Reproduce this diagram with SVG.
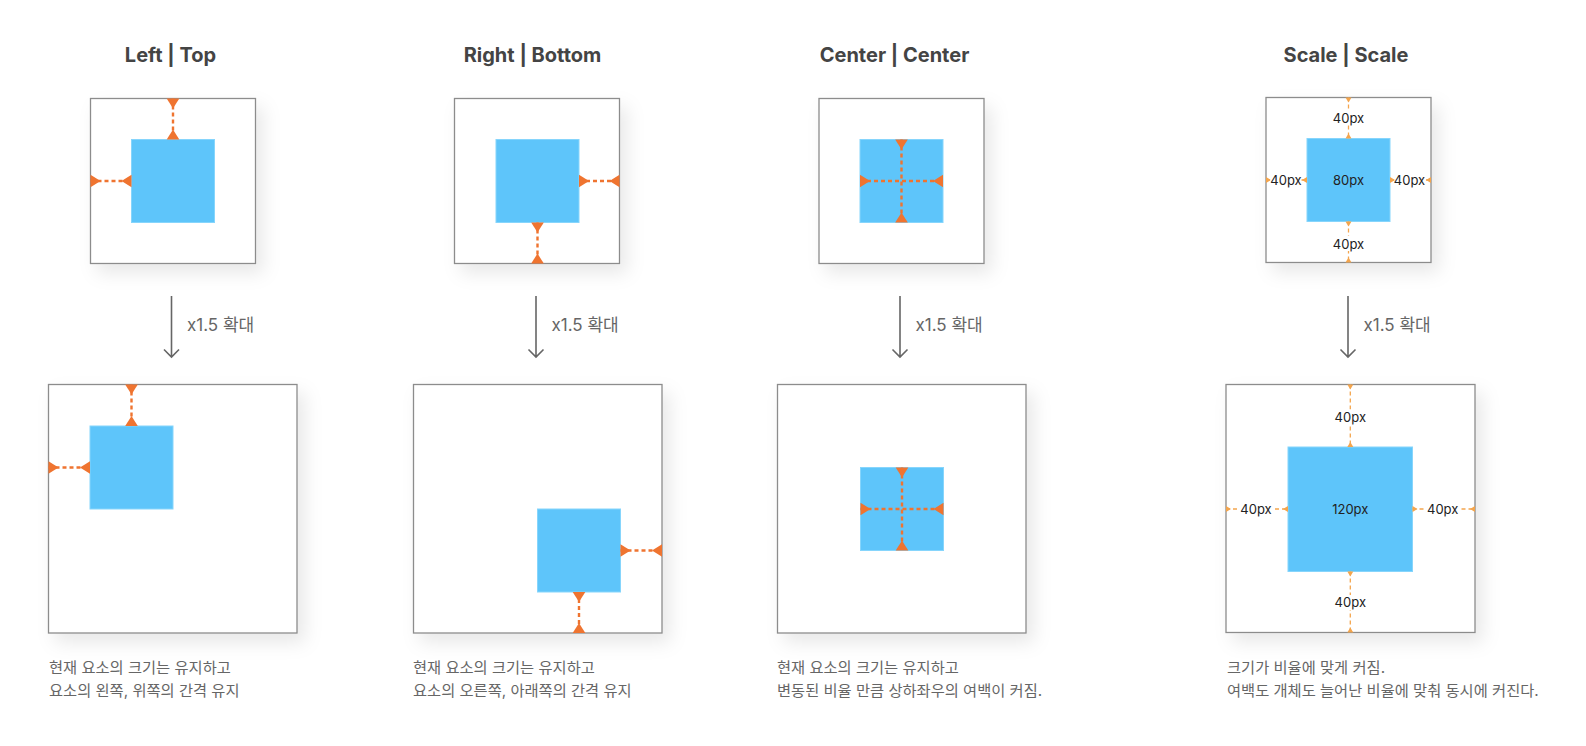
<svg xmlns="http://www.w3.org/2000/svg" width="1586" height="746" viewBox="0 0 1586 746">
<style>
.title{font-family:Inter,"Noto Sans","Liberation Sans",sans-serif;font-weight:700;font-size:20px;fill:#444;text-anchor:middle}
.zoom{font-family:Inter,"Noto Sans CJK KR",sans-serif;font-size:17px;fill:#666}
.cap{font-family:Inter,"Noto Sans CJK KR",sans-serif;font-size:15.3px;fill:#666}
.lbl{font-family:Inter,"Noto Sans",sans-serif;font-size:13px;fill:#222;text-anchor:middle}
.frame{fill:#fff;stroke:#8c8c8c;stroke-width:1.3;filter:url(#sh)}
.blue{fill:#5ec5fa;stroke:#86d5fc;stroke-width:1}
.dim{stroke:#ef7430;stroke-width:2.4;stroke-dasharray:4 3;fill:none;marker-start:url(#ts);marker-end:url(#te)}
.dim2{stroke:#f4a54d;stroke-width:1.3;stroke-dasharray:4 3;fill:none;marker-start:url(#ss);marker-end:url(#se)}
.zarrow{stroke:#666;stroke-width:1.6;fill:none}
.bg{fill:#fff}
</style>
<defs>
<filter id="sh" x="-20%" y="-20%" width="150%" height="150%">
<feDropShadow dx="7" dy="9" stdDeviation="9" flood-color="#000" flood-opacity="0.09"/>
</filter>
<marker id="ts" markerUnits="userSpaceOnUse" refX="0" refY="0" orient="auto" overflow="visible" markerWidth="1" markerHeight="1"><path d="M0,-6.3 L10,0 L0,6.3 Z" fill="#ef7430"/></marker>
<marker id="te" markerUnits="userSpaceOnUse" refX="0" refY="0" orient="auto" overflow="visible" markerWidth="1" markerHeight="1"><path d="M0,-6.3 L-10,0 L0,6.3 Z" fill="#ef7430"/></marker>
<marker id="ss" markerUnits="userSpaceOnUse" refX="0" refY="0" orient="auto" overflow="visible" markerWidth="1" markerHeight="1"><path d="M0,-3 L5,0 L0,3 Z" fill="#f4a54d"/></marker>
<marker id="se" markerUnits="userSpaceOnUse" refX="0" refY="0" orient="auto" overflow="visible" markerWidth="1" markerHeight="1"><path d="M0,-3 L-5,0 L0,3 Z" fill="#f4a54d"/></marker>
</defs>
<rect width="1586" height="746" fill="#fff"/>

<text class="title" x="170.5" y="62">Left | Top</text>
<text class="title" x="532.5" y="62">Right | Bottom</text>
<text class="title" x="894.5" y="62">Center | Center</text>
<text class="title" x="1346" y="62">Scale | Scale</text>

<g id="c1-top">
<rect class="frame" x="90.5" y="98.5" width="165" height="165"/>
<rect class="blue" x="131.5" y="139.5" width="83" height="83"/>
</g>
<g id="c1-bottom">
<rect class="frame" x="48.5" y="384.5" width="248.5" height="248.5"/>
<rect class="blue" x="90" y="426" width="83" height="83"/>
</g>

<g id="c2-top">
<rect class="frame" x="454.5" y="98.5" width="165" height="165"/>
<rect class="blue" x="496" y="139.5" width="83" height="83"/>
</g>
<g id="c2-bottom">
<rect class="frame" x="413.5" y="384.5" width="248.5" height="248.5"/>
<rect class="blue" x="537.5" y="509" width="83" height="83"/>
</g>

<g id="c3-top">
<rect class="frame" x="819" y="98.5" width="165" height="165"/>
<rect class="blue" x="860" y="139.5" width="83" height="83"/>
</g>
<g id="c3-bottom">
<rect class="frame" x="777.5" y="384.5" width="248.5" height="248.5"/>
<rect class="blue" x="860.5" y="467.5" width="83" height="83"/>
</g>

<g id="c4-top">
<rect class="frame" x="1266" y="97.5" width="165" height="165"/>
<rect class="blue" x="1307" y="138.5" width="83" height="83"/>
<text class="lbl" x="1348.5" y="184.7">80px</text>
</g>
<g id="c4-bottom">
<rect class="frame" x="1226" y="384.5" width="249" height="248"/>
<rect class="blue" x="1288" y="447" width="124.5" height="124.5"/>
<text class="lbl" x="1350.3" y="513.7">120px</text>
</g>

<g id="connectors">
<line class="dim" x1="173" y1="98.5" x2="173" y2="139.5"/>
<line class="dim" x1="90.5" y1="181" x2="131.5" y2="181"/>
<line class="dim" x1="131.5" y1="384.5" x2="131.5" y2="426"/>
<line class="dim" x1="48.5" y1="467.5" x2="90" y2="467.5"/>

<line class="dim" x1="579" y1="181" x2="619.5" y2="181"/>
<line class="dim" x1="537.5" y1="222.5" x2="537.5" y2="263.5"/>
<line class="dim" x1="620.5" y1="550.5" x2="662" y2="550.5"/>
<line class="dim" x1="579" y1="592" x2="579" y2="633"/>

<line class="dim" x1="860" y1="181" x2="943" y2="181"/>
<line class="dim" x1="901.5" y1="139.5" x2="901.5" y2="222.5"/>
<line class="dim" x1="860.5" y1="509" x2="943.5" y2="509"/>
<line class="dim" x1="902" y1="467.5" x2="902" y2="550.5"/>

<line class="dim2" x1="1348.5" y1="97.5" x2="1348.5" y2="138.5"/>
<line class="dim2" x1="1348.5" y1="221.5" x2="1348.5" y2="262.5"/>
<line class="dim2" x1="1266" y1="180" x2="1307" y2="180"/>
<line class="dim2" x1="1390" y1="180" x2="1431" y2="180"/>
<line class="dim2" x1="1350.3" y1="384.5" x2="1350.3" y2="447"/>
<line class="dim2" x1="1350.3" y1="571.5" x2="1350.3" y2="632.5"/>
<line class="dim2" x1="1226" y1="509" x2="1288" y2="509"/>
<line class="dim2" x1="1412.5" y1="509" x2="1475" y2="509"/>

<path class="zarrow" d="M171.5,296 V357 M164,349.5 L171.5,357 L179,349.5"/>
<path class="zarrow" d="M536,296 V357 M528.5,349.5 L536,357 L543.5,349.5"/>
<path class="zarrow" d="M900,296 V357 M892.5,349.5 L900,357 L907.5,349.5"/>
<path class="zarrow" d="M1348,296 V357 M1340.5,349.5 L1348,357 L1355.5,349.5"/>
</g>

<g id="labels">
<rect class="bg" x="1331" y="110" width="35" height="15"/>
<text class="lbl" x="1348.5" y="123">40px</text>
<rect class="bg" x="1331" y="236" width="35" height="15"/>
<text class="lbl" x="1348.5" y="248.7">40px</text>
<rect class="bg" x="1270.5" y="172.5" width="31" height="15"/>
<text class="lbl" x="1286" y="184.7">40px</text>
<rect class="bg" x="1395" y="172.5" width="31" height="15"/>
<text class="lbl" x="1409.5" y="184.7">40px</text>
<rect class="bg" x="1332.5" y="409.5" width="35" height="15"/>
<text class="lbl" x="1350.3" y="422">40px</text>
<rect class="bg" x="1332.5" y="595" width="35" height="15"/>
<text class="lbl" x="1350.3" y="607.4">40px</text>
<rect class="bg" x="1238.5" y="501.5" width="35" height="15"/>
<text class="lbl" x="1256" y="513.7">40px</text>
<rect class="bg" x="1425" y="501.5" width="35" height="15"/>
<text class="lbl" x="1442.7" y="513.7">40px</text>
</g>

<text class="zoom" x="187" y="331">x1.5 확대</text>
<text class="zoom" x="551.5" y="331">x1.5 확대</text>
<text class="zoom" x="915.5" y="331">x1.5 확대</text>
<text class="zoom" x="1363.5" y="331">x1.5 확대</text>

<text class="cap" x="49" y="673">현재 요소의 크기는 유지하고</text>
<text class="cap" x="49" y="696">요소의 왼쪽, 위쪽의 간격 유지</text>
<text class="cap" x="413" y="673">현재 요소의 크기는 유지하고</text>
<text class="cap" x="413" y="696">요소의 오른쪽, 아래쪽의 간격 유지</text>
<text class="cap" x="777" y="673">현재 요소의 크기는 유지하고</text>
<text class="cap" x="777" y="696">변동된 비율 만큼 상하좌우의 여백이 커짐.</text>
<text class="cap" x="1227" y="673">크기가 비율에 맞게 커짐.</text>
<text class="cap" x="1227" y="696">여백도 개체도 늘어난 비율에 맞춰 동시에 커진다.</text>
</svg>
